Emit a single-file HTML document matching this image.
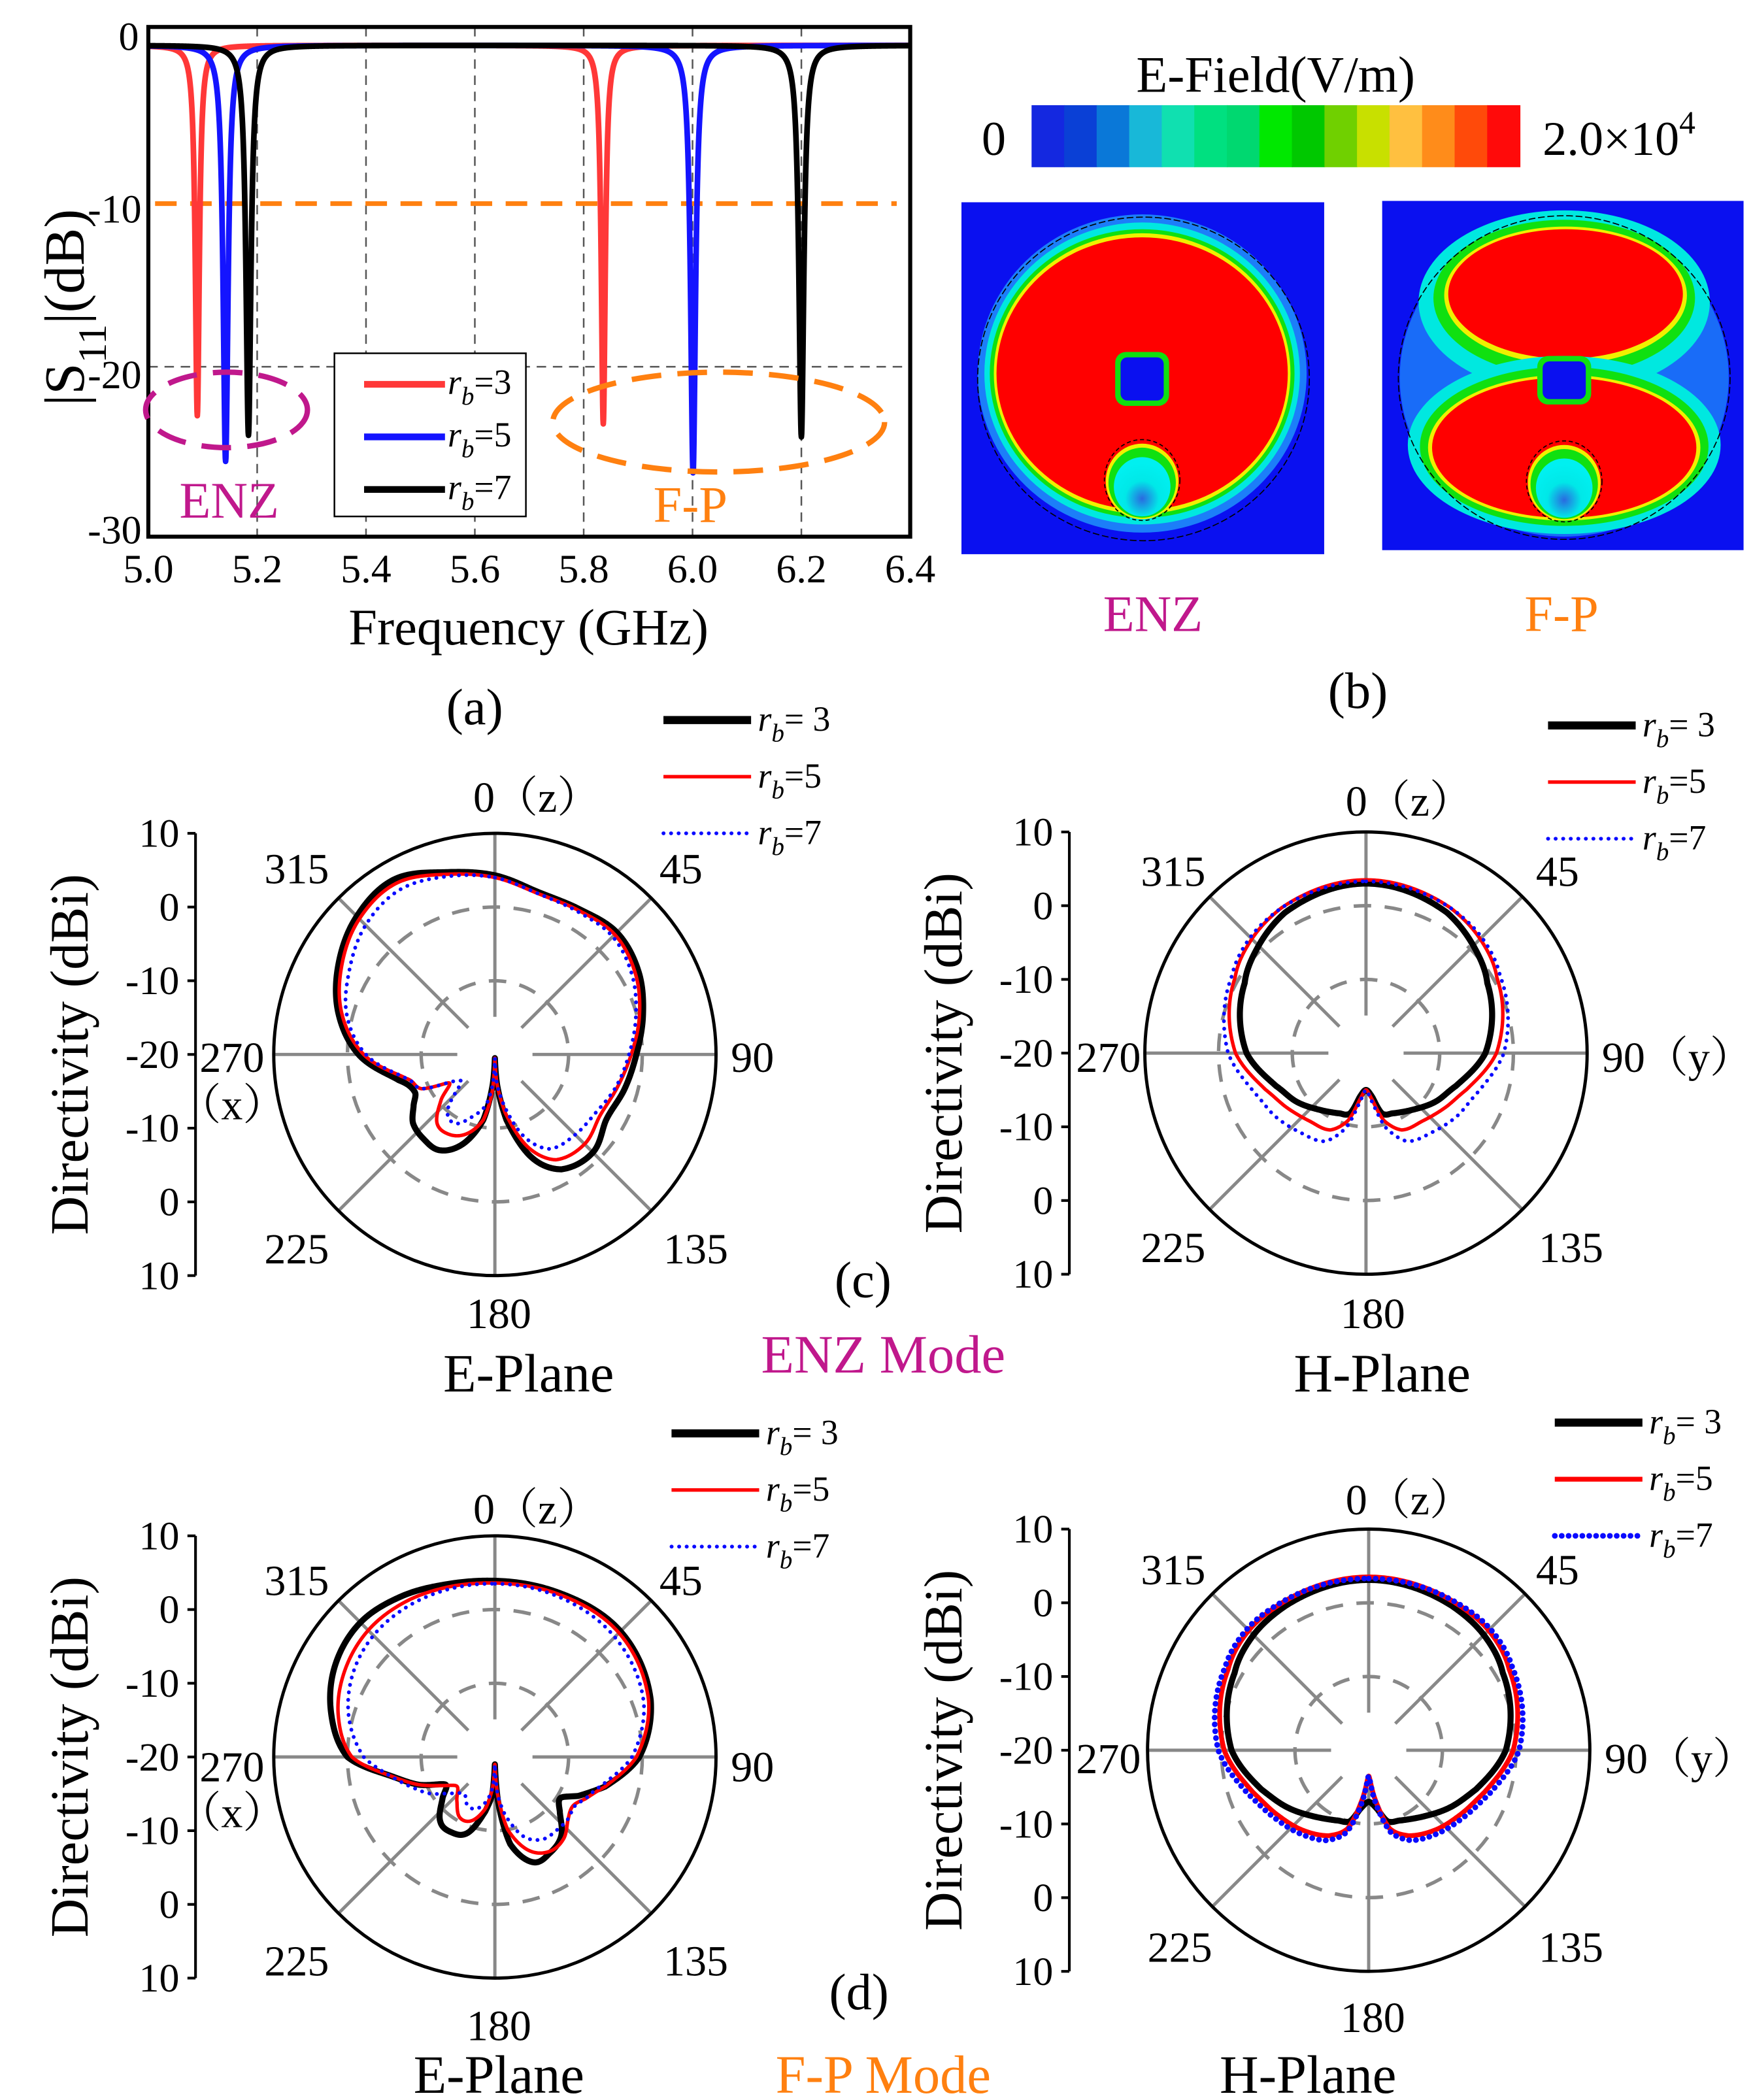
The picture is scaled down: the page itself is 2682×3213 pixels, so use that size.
<!DOCTYPE html>
<html><head><meta charset="utf-8"><style>
html,body{margin:0;padding:0;background:#fff}
svg{display:block}
text{font-family:"Liberation Serif","Noto Serif CJK SC",serif;fill:#000}
</style></head><body>
<svg id="fig" xmlns="http://www.w3.org/2000/svg" width="2682" height="3213" viewBox="0 0 1300 1557.4" preserveAspectRatio="none">
<rect x="0" y="0" width="1300" height="1557.4" fill="#fff"/>

<g id="s11"></g>
<g font-size="30">
<text x="103" y="37" text-anchor="end">0</text>
<text x="105" y="165" text-anchor="end">-10</text>
<text x="105" y="288" text-anchor="end">-20</text>
<text x="105" y="403" text-anchor="end">-30</text>
<text transform="translate(62,228) rotate(-90)" text-anchor="middle" font-size="42">|S<tspan font-size="30" baseline-shift="sub">11</tspan>|(dB)</text>
<text x="392" y="478" text-anchor="middle" font-size="38">Frequency (GHz)</text>
<text x="352" y="537" text-anchor="middle" font-size="38">(a)</text>
</g>
<g>
<rect x="248" y="262" width="142" height="121" fill="#fff" stroke="#000" stroke-width="1.2"/>
<line x1="270" y1="285" x2="330" y2="285" stroke="#ff3838" stroke-width="5"/>
<line x1="270" y1="324" x2="330" y2="324" stroke="#1414ff" stroke-width="5"/>
<line x1="270" y1="363" x2="330" y2="363" stroke="#000" stroke-width="5"/>
<text x="332" y="292" font-size="26"><tspan font-style="italic">r</tspan><tspan font-style="italic" font-size="19" dy="8">b</tspan><tspan dy="-8">=3</tspan></text>
<text x="332" y="331" font-size="26"><tspan font-style="italic">r</tspan><tspan font-style="italic" font-size="19" dy="8">b</tspan><tspan dy="-8">=5</tspan></text>
<text x="332" y="370" font-size="26"><tspan font-style="italic">r</tspan><tspan font-style="italic" font-size="19" dy="8">b</tspan><tspan dy="-8">=7</tspan></text>
</g>
<ellipse cx="168" cy="304" rx="60" ry="28" fill="none" stroke="#c0188c" stroke-width="4" stroke-dasharray="22,12"/>
<ellipse cx="533" cy="313" rx="123" ry="37" fill="none" stroke="#ff8010" stroke-width="4" stroke-dasharray="22,12"/>
<text x="170" y="384" text-anchor="middle" font-size="38" style="fill:#c0188c">ENZ</text>
<text x="512" y="387" text-anchor="middle" font-size="38" style="fill:#ff8010">F-P</text>

<g id="cbar"></g>
<text x="946" y="68" text-anchor="middle" font-size="38">E-Field(V/m)</text>
<text x="737" y="115" text-anchor="middle" font-size="36">0</text>
<text x="1144" y="115" font-size="36">2.0×10<tspan font-size="24" dy="-16">4</tspan></text>
<defs>
<radialGradient id="feedg" cx="50%" cy="70%" r="60%"><stop offset="0" stop-color="#2a6ae0"/><stop offset="0.5" stop-color="#00e8e8"/><stop offset="1" stop-color="#00f0f0"/></radialGradient>
</defs>
<g>
<rect x="713" y="150" width="269" height="261" fill="#0a10f0"/>
<ellipse cx="847" cy="277" rx="122" ry="118" fill="#28c8ff" opacity="0.6"/>
<ellipse cx="847" cy="277" rx="117" ry="112" fill="#00e8e0"/>
<ellipse cx="847" cy="277" rx="113" ry="107" fill="#10e010"/>
<ellipse cx="847" cy="277" rx="110" ry="104" fill="#f0f000"/>
<ellipse cx="847" cy="277" rx="108" ry="101" fill="#ff0000"/>
<ellipse cx="848" cy="281" rx="123" ry="120" fill="none" stroke="#000" stroke-width="0.8" stroke-dasharray="5,2"/>
<rect x="827" y="261" width="40" height="40" rx="8" fill="#10e010"/>
<rect x="831" y="265" width="32" height="32" rx="5" fill="#0a10f0"/>
<ellipse cx="847" cy="357" rx="27" ry="28" fill="#f0f000"/>
<ellipse cx="847" cy="358" rx="25" ry="26" fill="#10e010"/>
<ellipse cx="847" cy="361" rx="21" ry="22" fill="url(#feedg)"/>
<ellipse cx="847" cy="356" rx="28" ry="30" fill="none" stroke="#000" stroke-width="0.8" stroke-dasharray="3,2"/>
</g>
<g>
<rect x="1025" y="149" width="268" height="259" fill="#0a10f0"/>
<ellipse cx="1160" cy="280" rx="122" ry="118" fill="#28c8ff" opacity="0.5"/>
<ellipse cx="1160" cy="224" rx="108" ry="68" fill="#00e8e0"/>
<ellipse cx="1160" cy="221" rx="97" ry="58" fill="#10e010"/>
<ellipse cx="1161" cy="219" rx="90" ry="51" fill="#f0f000"/>
<ellipse cx="1161" cy="218" rx="87" ry="48" fill="#ff0000"/>
<ellipse cx="1160" cy="330" rx="116" ry="66" fill="#00e8e0"/>
<ellipse cx="1160" cy="331" rx="107" ry="59" fill="#10e010"/>
<ellipse cx="1160" cy="332" rx="101" ry="54" fill="#f0f000"/>
<ellipse cx="1160" cy="332" rx="98" ry="52" fill="#ff0000"/>
<rect x="1140" y="264" width="40" height="36" rx="8" fill="#10e010"/>
<rect x="1144" y="268" width="32" height="28" rx="5" fill="#0a10f0"/>
<ellipse cx="1160" cy="358" rx="27" ry="28" fill="#f0f000"/>
<ellipse cx="1160" cy="359" rx="25" ry="26" fill="#10e010"/>
<ellipse cx="1160" cy="362" rx="21" ry="22" fill="url(#feedg)"/>
<ellipse cx="1160" cy="280" rx="123" ry="120" fill="none" stroke="#000" stroke-width="0.8" stroke-dasharray="5,2"/>
<ellipse cx="1160" cy="357" rx="28" ry="30" fill="none" stroke="#000" stroke-width="0.8" stroke-dasharray="3,2"/>
</g>
<text x="855" y="468" text-anchor="middle" font-size="38" style="fill:#c0188c">ENZ</text>
<text x="1158" y="468" text-anchor="middle" font-size="38" style="fill:#ff8010">F-P</text>
<text x="1007" y="525" text-anchor="middle" font-size="38">(b)</text>

<g id="pc1"></g>
<g id="pc2"></g>
<g id="pd1"></g>
<g id="pd2"></g>

<text x="392" y="1032" text-anchor="middle" font-size="40">E-Plane</text>
<text x="1025" y="1032" text-anchor="middle" font-size="40">H-Plane</text>
<text x="640" y="962" text-anchor="middle" font-size="38">(c)</text>
<text x="655" y="1018" text-anchor="middle" font-size="40" style="fill:#c0188c">ENZ Mode</text>
<text x="370" y="1552" text-anchor="middle" font-size="40">E-Plane</text>
<text x="970" y="1552" text-anchor="middle" font-size="40">H-Plane</text>
<text x="637" y="1490" text-anchor="middle" font-size="38">(d)</text>
<text x="655" y="1552" text-anchor="middle" font-size="40" style="fill:#ff8010">F-P Mode</text>
</svg>

<script>
const s11Ticks = [5.0, 5.2, 5.4, 5.6, 5.8, 6.0, 6.2, 6.4];
const s11Names = ['rb3', 'rb5', 'rb7'];
const s11Colors = ['#ff3838', '#1414ff', '#000000'];
const dipFreqRb3 = [5.090, 5.836];
const dipDepthRb3 = [-23.0, -23.5];
const dipFreqRb5 = [5.142, 6.001];
const dipDepthRb5 = [-25.8, -26.5];
const dipFreqRb7 = [5.184, 6.200];
const dipDepthRb7 = [-24.2, -24.3];
const dipWidth = [0.0045, 0.0055, 0.0055];
const baseLevel = -0.3;

const angEnzE = [0,15,30,45,60,75,90,105,120,135,150,160,170,176,180,184,190,200,210,220,230,238,245,255,270,285,300,315,330,345];
const enzE3 = [4.3,2.8,2.8,3.4,2.5,0.8,-0.8,-1.8,-2.5,-1.2,-2.0,-5,-11,-16,-19.5,-16,-11,-7,-5,-5,-5.5,-7,-8,-6.5,-1.5,2,4.5,6.5,7.4,5.6];
const enzE5 = [4.0,2.6,2.6,3.0,2.0,0.3,-1.5,-2.8,-3.5,-2.8,-3.5,-6.5,-12,-16,-19.5,-15,-11,-8.5,-7.5,-7.8,-10.5,-12.7,-9,-7.5,-2.2,1.5,4,6,6.8,5.3];
const enzE7 = [4.0,2.6,2.4,2.6,1.5,-0.2,-1.8,-3,-4.2,-4.6,-5.2,-8,-13,-16,-19.5,-16,-13,-11,-9.2,-10,-14,-13,-9,-7.5,-2.5,0.8,2.8,4.8,5.8,5];

const angH = [0,30,45,60,90,110,125,140,155,165,172,180,188,195,205,220,235,250,270,300,315,330];
const enzH3 = [3.0,2.0,0.6,-1,-3.8,-7,-8.5,-10,-11,-11.5,-14,-15,-14,-11.5,-11,-10,-8.5,-7,-3.8,-1,0.6,2.0];
const enzH5 = [3.5,2.8,1.9,0.5,-2.3,-5.5,-7,-8,-8.5,-10.5,-13.5,-15,-13.5,-10.5,-8.5,-8,-7,-5.5,-2.3,0.5,1.9,2.8];
const enzH7 = [3.3,2.8,2.2,1,-1.3,-4,-5,-6,-6.8,-9.5,-13,-15,-13,-9.5,-6.8,-6,-5,-4,-1.3,1,2.2,2.8];

const angFpE = [0,20,45,70,90,105,115,122,130,140,150,160,170,176,180,184,190,200,210,220,232,241,250,260,270,285,300,315,330,345];
const fpE3 = [3.9,3.9,4.1,2.5,-0.4,-4.5,-7.5,-9.5,-8.5,-6,-5,-4.8,-8,-14,-19,-15,-12.5,-9,-8.2,-8.5,-11,-12.3,-9,-5.5,0,3,5,5.8,5.2,4.3];
const fpE5 = [3.6,3.7,3.8,2.2,-0.8,-4.5,-6.5,-7.5,-7,-5.5,-5.2,-6.5,-10,-15,-19,-16,-13,-10.8,-10.5,-12,-13.5,-12,-9,-5.5,-0.6,2,3.5,4.3,4.3,3.9];
const fpE7 = [3.5,3.4,3.0,1.5,-1.4,-5,-6.5,-7.3,-7,-7,-7.1,-8.5,-12,-15,-19,-16,-14,-12.5,-12.5,-13.5,-12,-9.8,-8,-5.5,-2.2,0.5,2.3,3.3,3.6,3.6];

const fpH3 = [3.1,2.6,2.1,1.0,-1.4,-4.5,-6.5,-8.3,-9.5,-10,-12,-13,-12,-10,-9.5,-8.3,-6.5,-4.5,-1.4,1.0,2.1,2.6];
const fpH5 = [3.5,3.2,3.0,2.0,-0.4,-3.3,-4.8,-5.9,-7.2,-9,-13,-16.5,-13,-9,-7.2,-5.9,-4.8,-3.3,-0.4,2.0,3.0,3.2];
const fpH7 = [3.3,3.3,3.3,2.5,0.4,-2.6,-4.2,-5.3,-6.5,-8.5,-12.5,-16.5,-12.5,-8.5,-6.5,-5.3,-4.2,-2.6,0.4,2.5,3.3,3.3];

const radialTicks = ['10','0','-10','-20','-10','0','10'];
const colorbarColors = ['#1428e0','#0a40d6','#0a78d8','#18b8d8','#10e0b0','#00e080','#00d870','#00e800','#00c800','#70d000','#c8e000','#ffc040','#ff8c1a','#ff4a0a','#ff0a0a'];

const NS = 'http://www.w3.org/2000/svg';
function mk(tag, attrs, parent) {
  const e = document.createElementNS(NS, tag);
  for (const k in attrs) e.setAttribute(k, attrs[k]);
  parent.appendChild(e);
  return e;
}

(function () {
  const g = document.getElementById('s11');
  const x0 = 110, x1 = 675, yTop = 20, yBot = 398;
  const xs = f => x0 + (f - 5.0) / 1.4 * (x1 - x0);
  const ys = v => 30 + (-v) * 12.1;
  for (let i = 1; i < s11Ticks.length - 1; i++) {
    const gl = mk('line', {x1: xs(s11Ticks[i]), x2: xs(s11Ticks[i]), y1: yTop, y2: yBot, stroke: '#555', 'stroke-width': 1.2, 'stroke-dasharray': '7,5'}, g);
    
    
  }
  const hg = mk('line', {x1: x0, x2: x1, y1: ys(-20), y2: ys(-20), stroke: '#555', 'stroke-width': 1.2, 'stroke-dasharray': '7,5'}, g);
  
  
  const ref = mk('line', {x1: x0 + 5, x2: x1 - 10, y1: ys(-10), y2: ys(-10), stroke: '#ff8010', 'stroke-width': 3.5, 'stroke-dasharray': '16,10'}, g);
  
  
  const freqs = [dipFreqRb3, dipFreqRb5, dipFreqRb7];
  const depths = [dipDepthRb3, dipDepthRb5, dipDepthRb7];
  for (let s = 0; s < 3; s++) {
    let d = '';
    for (let i = 0; i <= 2800; i++) {
      const f = 5.0 + 1.4 * i / 2800;
      let v = baseLevel;
      for (let k = 0; k < freqs[s].length; k++) {
        const u = (f - freqs[s][k]) / dipWidth[s];
        v += (depths[s][k] - baseLevel) / (1 + u * u);
      }
      d += (i ? 'L' : 'M') + xs(f).toFixed(2) + ',' + ys(v).toFixed(2);
    }
    const p = mk('path', {d: d, fill: 'none', stroke: s11Colors[s], 'stroke-width': 4.2, 'stroke-linejoin': 'round'}, g);
    
    
  }
  const box = mk('rect', {x: x0, y: yTop, width: x1 - x0, height: yBot - yTop, fill: 'none', stroke: '#000', 'stroke-width': 3}, g);
  
  
  for (let i = 0; i < s11Ticks.length; i++) {
    const t = mk('text', {x: xs(s11Ticks[i]), y: 432, 'text-anchor': 'middle', 'font-size': 30}, g);
    t.textContent = s11Ticks[i].toFixed(1);
    
    
  }
})();

(function () {
  const g = document.getElementById('cbar');
  const x0 = 765, w = (1127 - 765) / colorbarColors.length;
  for (let i = 0; i < colorbarColors.length; i++) {
    const r = mk('rect', {x: x0 + i * w, y: 78, width: w + 0.5, height: 46, fill: colorbarColors[i]}, g);
    
    
  }
})();

function interp(ang, vals, a) {
  const n = ang.length;
  let i = 0;
  for (let k = 0; k < n; k++) { if (ang[k] <= a) i = k; }
  const j = (i + 1) % n;
  const a0 = ang[i], a1 = j === 0 ? 360 : ang[j];
  const t = (a - a0) / (a1 - a0);
  const p0 = vals[(i - 1 + n) % n], p1 = vals[i], p2 = vals[j], p3 = vals[(j + 1) % n];
  const t2 = t * t, t3 = t2 * t;
  return 0.5 * ((2 * p1) + (-p0 + p2) * t + (2 * p0 - 5 * p1 + 4 * p2 - p3) * t2 + (-p0 + 3 * p1 - 3 * p2 + p3) * t3);
}

function polar(id, cx, cy, R, axisX, ang, series, labels, legend, blueThick) {
  const g = document.getElementById(id);
  const rr = db => Math.max(0, (db + 20) / 30 * R);
  for (const k of [1, 2]) {
    const c = mk('circle', {cx: cx, cy: cy, r: R * k / 3, fill: 'none', stroke: '#888', 'stroke-width': 2.6, 'stroke-dasharray': '13,10'}, g);
    
    
  }
  for (let a = 0; a < 360; a += 45) {
    const rad = a * Math.PI / 180;
    const r0 = R * 0.17;
    const l = mk('line', {x1: cx + r0 * Math.sin(rad), y1: cy - r0 * Math.cos(rad), x2: cx + R * Math.sin(rad), y2: cy - R * Math.cos(rad), stroke: '#888', 'stroke-width': 2.4}, g);
    
    
  }
  const oc = mk('circle', {cx: cx, cy: cy, r: R, fill: 'none', stroke: '#000', 'stroke-width': 2.4}, g);
  
  
  const styles = [
    {stroke: '#000', 'stroke-width': 4.5},
    {stroke: '#ff0000', 'stroke-width': blueThick ? 3.6 : 2.6},
    {stroke: '#0a0aff', 'stroke-width': blueThick ? 4.2 : 2.8, 'stroke-dasharray': blueThick ? '0.1,5' : '0.1,5.5', 'stroke-linecap': 'round'}
  ];
  const names = ['rb3', 'rb5', 'rb7'];
  for (let s = 0; s < 3; s++) {
    let d = '';
    for (let a = 0; a <= 360; a += 0.5) {
      const aa = a % 360;
      const v = interp(ang, series[s], aa);
      const r = rr(v);
      const rad = aa * Math.PI / 180;
      d += (a ? 'L' : 'M') + (cx + r * Math.sin(rad)).toFixed(2) + ',' + (cy - r * Math.cos(rad)).toFixed(2);
    }
    const attrs = Object.assign({d: d + 'Z', fill: 'none', 'stroke-linejoin': 'round'}, styles[s]);
    const p = mk('path', attrs, g);
    
    
  }
  const ax = mk('line', {x1: axisX, x2: axisX, y1: cy - R, y2: cy + R, stroke: '#000', 'stroke-width': 2}, g);
  
  
  for (let i = 0; i < radialTicks.length; i++) {
    const y = cy - R + i * R / 3;
    const tk = mk('line', {x1: axisX - 6, x2: axisX, y1: y, y2: y, stroke: '#000', 'stroke-width': 2}, g);
    
    
    const t = mk('text', {x: axisX - 12, y: y + 10, 'text-anchor': 'end', 'font-size': 30}, g);
    t.textContent = radialTicks[i];
    
    
  }
  const yt = mk('text', {transform: 'translate(' + (axisX - 80) + ',' + cy + ') rotate(-90)', 'text-anchor': 'middle', 'font-size': 40}, g);
  yt.textContent = 'Directivity (dBi)';
  
  
  for (const L of labels) {
    const t = mk('text', {x: L[1], y: L[2], 'text-anchor': L[3] || 'middle', 'font-size': 32}, g);
    t.textContent = L[0];
    
    
  }
  const lx = legend[0], ly = legend[1];
  const lvals = ['= 3', '=5', '=7'];
  for (let s = 0; s < 3; s++) {
    const y = ly + s * 42;
    const la = Object.assign({x1: lx, x2: lx + 65, y1: y, y2: y, fill: 'none'}, styles[s]);
    if (s === 0) la['stroke-width'] = 6;
    const ln = mk('line', la, g);
    
    
    const t = mk('text', {x: lx + 70, y: y + 8, 'font-size': 26}, g);
    t.innerHTML = '<tspan font-style="italic">r</tspan><tspan font-style="italic" font-size="19" dy="8">b</tspan><tspan dy="-8">' + lvals[s] + '</tspan>';
    
    
  }
}

polar('pc1', 367, 782, 164, 145, angEnzE, [enzE3, enzE5, enzE7],
  [['0（z）', 398, 602], ['315', 220, 655], ['45', 505, 655], ['270', 172, 795], ['（x）', 172, 830], ['90', 558, 795], ['225', 220, 937], ['135', 516, 937], ['180', 370, 985]],
  [492, 534], false);
polar('pc2', 1013, 781, 164, 793, angH, [enzH3, enzH5, enzH7],
  [['0（z）', 1045, 605], ['315', 870, 657], ['45', 1155, 657], ['270', 822, 795], ['90（y）', 1188, 795, 'start'], ['225', 870, 936], ['135', 1165, 936], ['180', 1018, 985]],
  [1148, 538], false);
polar('pd1', 367, 1303, 164, 145, angFpE, [fpE3, fpE5, fpE7],
  [['0（z）', 398, 1130], ['315', 220, 1183], ['45', 505, 1183], ['270', 172, 1321], ['（x）', 172, 1355], ['90', 558, 1321], ['225', 220, 1465], ['135', 516, 1465], ['180', 370, 1513]],
  [498, 1063], false);
polar('pd2', 1015, 1298, 164, 793, angH, [fpH3, fpH5, fpH7],
  [['0（z）', 1045, 1123], ['315', 870, 1175], ['45', 1155, 1175], ['270', 822, 1315], ['90（y）', 1190, 1315, 'start'], ['225', 875, 1455], ['135', 1165, 1455], ['180', 1018, 1507]],
  [1153, 1055], true);
</script>
</body></html>
